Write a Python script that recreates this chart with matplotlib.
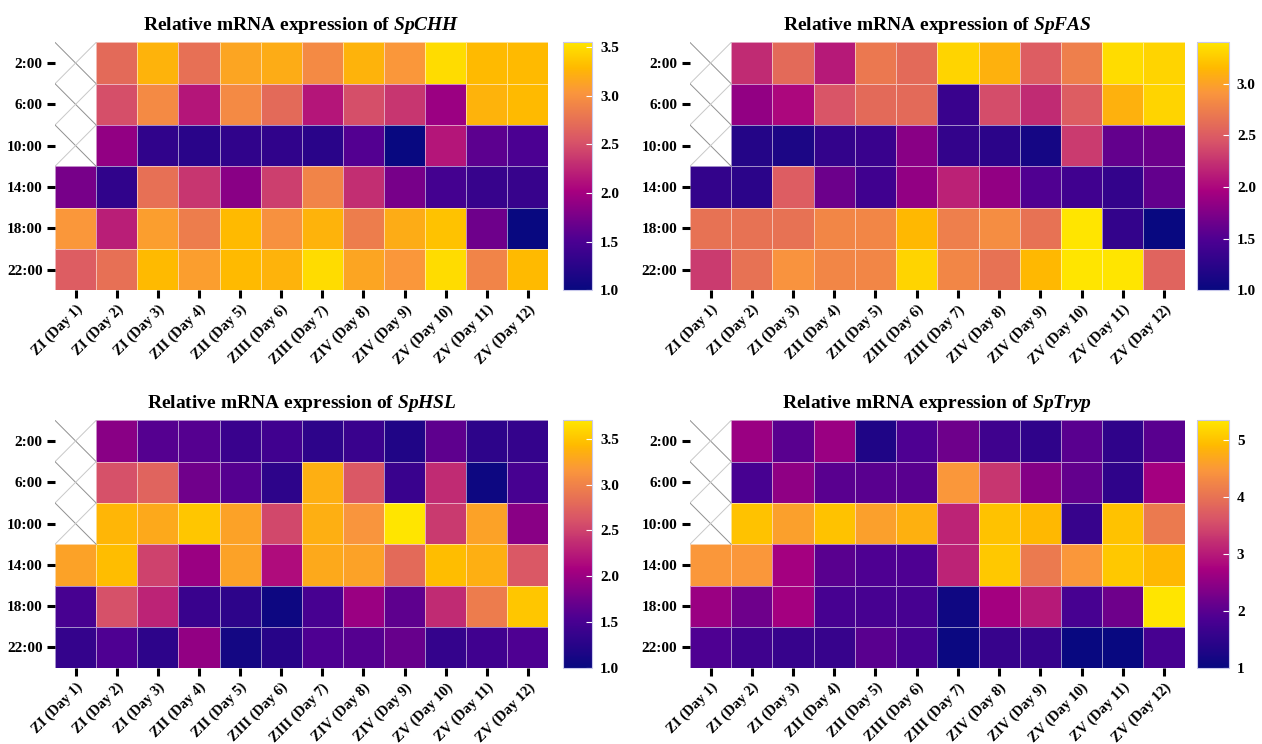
import numpy as np
import matplotlib.pyplot as plt
from matplotlib.colors import LinearSegmentedColormap

plt.rcParams['font.family'] = 'Liberation Serif'
plt.rcParams['font.weight'] = 'bold'
plt.rcParams['mathtext.fontset'] = 'custom'
plt.rcParams['mathtext.it'] = 'Liberation Serif:bold:italic'
plt.rcParams['mathtext.rm'] = 'Liberation Serif:bold'

times = ["2:00", "6:00", "10:00", "14:00", "18:00", "22:00"]
stages = ["ZI (Day 1)", "ZI (Day 2)", "ZI (Day 3)", "ZII (Day 4)", "ZII (Day 5)", "ZIII (Day 6)",
          "ZIII (Day 7)", "ZIV (Day 8)", "ZIV (Day 9)", "ZV (Day 10)", "ZV (Day 11)", "ZV (Day 12)"]
nan = np.nan

chh = [
    [nan, 2.70, 3.25, 2.75, 3.15, 3.20, 2.95, 3.25, 3.05, 3.50, 3.30, 3.30],
    [nan, 2.50, 2.95, 2.15, 2.95, 2.70, 2.15, 2.50, 2.35, 1.95, 3.25, 3.30],
    [nan, 1.90, 1.30, 1.25, 1.30, 1.30, 1.25, 1.55, 1.00, 2.15, 1.60, 1.50],
    [1.75, 1.30, 2.75, 2.35, 1.85, 2.40, 2.90, 2.30, 1.75, 1.45, 1.35, 1.35],
    [3.05, 2.20, 3.10, 2.85, 3.30, 3.00, 3.25, 2.85, 3.20, 3.35, 1.70, 1.00],
    [2.60, 2.75, 3.30, 3.10, 3.30, 3.25, 3.50, 3.15, 3.05, 3.50, 2.90, 3.30],
]
fas = [
    [nan, 2.20, 2.60, 2.10, 2.70, 2.60, 3.30, 3.10, 2.50, 2.75, 3.35, 3.30],
    [nan, 1.85, 2.00, 2.45, 2.60, 2.60, 1.35, 2.40, 2.20, 2.50, 3.10, 3.30],
    [nan, 1.20, 1.15, 1.30, 1.35, 1.80, 1.30, 1.25, 1.10, 2.30, 1.60, 1.65],
    [1.30, 1.25, 2.50, 1.65, 1.40, 1.85, 2.15, 1.85, 1.50, 1.40, 1.30, 1.60],
    [2.65, 2.65, 2.65, 2.80, 2.80, 3.15, 2.75, 2.85, 2.65, 3.40, 1.30, 1.00],
    [2.30, 2.65, 2.90, 2.80, 2.80, 3.30, 2.80, 2.65, 3.15, 3.40, 3.40, 2.55],
]
hsl = [
    [nan, 1.90, 1.60, 1.60, 1.40, 1.45, 1.30, 1.40, 1.20, 1.65, 1.30, 1.35],
    [nan, 2.60, 2.75, 1.75, 1.60, 1.30, 3.35, 2.65, 1.40, 2.35, 1.05, 1.50],
    [nan, 3.40, 3.30, 3.50, 3.25, 2.55, 3.35, 3.15, 3.70, 2.45, 3.25, 1.90],
    [3.25, 3.45, 2.50, 2.00, 3.25, 2.15, 3.30, 3.25, 2.80, 3.45, 3.35, 2.65],
    [1.50, 2.60, 2.30, 1.40, 1.30, 1.05, 1.50, 2.00, 1.65, 2.35, 2.95, 3.50],
    [1.35, 1.55, 1.30, 1.95, 1.10, 1.25, 1.55, 1.60, 1.70, 1.35, 1.45, 1.55],
]
tryp = [
    [nan, 2.60, 2.00, 2.60, 1.30, 1.90, 2.20, 1.70, 1.50, 2.00, 1.50, 2.00],
    [nan, 1.80, 2.50, 2.00, 2.00, 2.00, 4.50, 3.30, 2.40, 2.10, 1.50, 2.70],
    [nan, 5.00, 4.60, 5.00, 4.60, 4.80, 3.10, 5.00, 4.90, 1.60, 5.00, 4.10],
    [4.50, 4.50, 2.70, 2.00, 1.90, 1.90, 3.10, 5.05, 4.10, 4.50, 5.05, 4.90],
    [2.60, 2.20, 2.70, 1.80, 1.80, 1.80, 1.10, 2.70, 3.00, 1.80, 2.20, 5.35],
    [1.90, 1.70, 1.60, 1.60, 2.00, 1.80, 1.05, 1.60, 1.60, 1.00, 1.00, 1.80],
]

cmap = LinearSegmentedColormap.from_list("prism_plasma", [
    (0.00, "#080880"), (0.20, "#4c0092"), (0.40, "#a8007f"), (0.60, "#d85468"),
    (0.80, "#fa963c"), (0.90, "#ffb900"), (1.00, "#ffe500")])

panels = [
    ("SpCHH", chh, 3.55, [1.0, 1.5, 2.0, 2.5, 3.0, 3.5], "%.1f", [0.0436, 0.610, 0.391, 0.333], [0.446, 0.610, 0.023, 0.333]),
    ("SpFAS", fas, 3.40, [1.0, 1.5, 2.0, 2.5, 3.0], "%.1f", [0.5467, 0.610, 0.392, 0.333], [0.9485, 0.610, 0.025, 0.333]),
    ("SpHSL", hsl, 3.70, [1.0, 1.5, 2.0, 2.5, 3.0, 3.5], "%.1f", [0.0436, 0.102, 0.391, 0.333], [0.446, 0.102, 0.023, 0.333]),
    ("SpTryp", tryp, 5.35, [1, 2, 3, 4, 5], "%d", [0.5467, 0.102, 0.392, 0.333], [0.9485, 0.102, 0.025, 0.333]),
]

fig = plt.figure(figsize=(12.62, 7.44), dpi=100)

for gene, vals, vmax, cticks, fmt, pos, cpos in panels:
    data = np.ma.masked_invalid(np.array(vals, dtype=float))
    ax = fig.add_axes(pos)
    mesh = ax.pcolormesh(np.arange(13) - 0.5, np.arange(7) - 0.5, data, cmap=cmap, vmin=1.0, vmax=vmax,
                         edgecolor=(1, 1, 1, 0.55), linewidth=0.6)
    # crossed lines on the missing cells
    for r in range(data.shape[0]):
        for c in range(data.shape[1]):
            if data.mask[r, c]:
                ax.plot([c - 0.5, c + 0.5], [r - 0.5, r + 0.5], color="#909090", lw=0.7)
                ax.plot([c - 0.5, c + 0.5], [r + 0.5, r - 0.5], color="#c8c8c8", lw=0.7)
    ax.set_xlim(-0.5, 11.5)
    ax.set_ylim(5.5, -0.5)
    ax.set_xticks(range(12))
    ax.set_xticklabels(stages, rotation=45, ha="right", rotation_mode="anchor", fontsize=10.5, fontweight="bold")
    ax.set_yticks(range(6))
    ax.set_yticklabels(times, fontsize=11, fontweight="bold")
    ax.tick_params(axis="both", length=6, width=2.2, color="black", pad=3)
    for s in ax.spines.values():
        s.set_visible(False)
    ax.set_title("Relative mRNA expression of $\\mathit{%s}$" % gene, fontsize=14, fontweight="bold", pad=9)

    cax = fig.add_axes(cpos)
    cb = fig.colorbar(mesh, cax=cax, ticks=cticks, format=fmt)
    cb.outline.set_edgecolor("#c8c8ec")
    cb.outline.set_linewidth(0.8)
    cax.tick_params(length=4, width=0.8, color="white", direction="in", labelsize=11, pad=6)
    for t in cax.get_yticklabels():
        t.set_fontweight("bold")

fig.savefig("out.png", dpi=100)
